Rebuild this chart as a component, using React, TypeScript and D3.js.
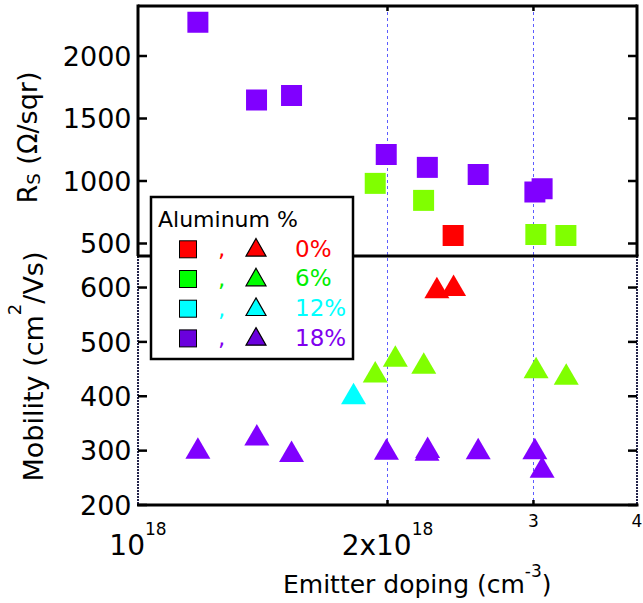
import React from "react";
import * as d3 from "d3";

// Emitter doping in units of 1e18 cm^-3
const rsAl0 = [{ x: 2.4, y: 564 }];
const rsAl6 = [
  { x: 1.933, y: 981 },
  { x: 2.211, y: 845 },
  { x: 3.02, y: 572 },
  { x: 3.283, y: 564 },
];
const rsAl18 = [
  { x: 1.181, y: 2270 },
  { x: 1.39, y: 1648 },
  { x: 1.532, y: 1684 },
  { x: 1.993, y: 1212 },
  { x: 2.234, y: 1109 },
  { x: 2.573, y: 1052 },
  { x: 3.012, y: 912 },
  { x: 3.073, y: 938 },
];
const muAl0 = [
  { x: 2.294, y: 600 },
  { x: 2.403, y: 604 },
];
const muAl6 = [
  { x: 1.933, y: 445 },
  { x: 2.044, y: 474 },
  { x: 2.212, y: 461 },
  { x: 3.022, y: 453 },
  { x: 3.286, y: 441 },
];
const muAl12 = [{ x: 1.82, y: 405 }];
const muAl18 = [
  { x: 1.181, y: 305 },
  { x: 1.391, y: 329 },
  { x: 1.532, y: 299 },
  { x: 1.994, y: 303 },
  { x: 2.236, y: 306 },
  { x: 2.232, y: 301 },
  { x: 2.573, y: 304 },
  { x: 3.012, y: 304 },
  { x: 3.073, y: 270 },
];
const rsTicks = [500, 1000, 1500, 2000];
const muTicks = [200, 300, 400, 500, 600];
const gridX = [2, 3];
const legendLabels = ["0%", "6%", "12%", "18%"];

const FONT = "DejaVu Sans";

export default function App() {
  const L = 138, R = 637, T = 6, MID = 256, B = 505;
  const x = d3.scaleLog().domain([1, 4]).range([L, R]);
  const yRs = d3.scaleLinear().domain([400, 2400]).range([MID, T]);
  const yMu = d3.scaleLinear().domain([200, 658]).range([B, MID]);

  const plotColors = { a0: "#ff0000", a6: "#80ff00", a12: "#00ffff", a18: "#8000ff" };
  const legendFill = ["#ff0000", "#00ff00", "#00ffff", "#6a00dd"];
  const legendText = ["#ff0000", "#00ee00", "#00ffff", "#8000ee"];

  const sq = 21;
  const tri = (cx: number, cy: number, hw: number, hh: number) =>
    `M${cx},${cy - hh}L${cx + hw},${cy + hh}L${cx - hw},${cy + hh}Z`;

  const squares = (data: { x: number; y: number }[], c: string, k: string) =>
    data.map((d, i) => (
      <rect key={k + i} x={x(d.x) - sq / 2} y={yRs(d.y) - sq / 2} width={sq} height={sq} fill={c} />
    ));
  const triangles = (data: { x: number; y: number }[], c: string, k: string) =>
    data.map((d, i) => <path key={k + i} d={tri(x(d.x), yMu(d.y), 12.5, 10.75)} fill={c} />);

  const rowY = (i: number) => 249.3 + i * 29.7;
  const gx = (g: number) => Math.floor(x(g)) + 0.5;

  return (
    <svg width={643} height={603} style={{ position: "absolute", left: 0, top: 0, background: "#fff" }} fontFamily={FONT}>
      {/* grid lines */}
      {gridX.map((g) => (
        <line key={"g" + g} x1={gx(g)} x2={gx(g)} y1={T} y2={B} stroke="#5c5cff" strokeWidth={1} strokeDasharray="3,3" />
      ))}

      {/* markers */}
      {squares(rsAl6, plotColors.a6, "s6")}
      {squares(rsAl0, plotColors.a0, "s0")}
      {squares(rsAl18, plotColors.a18, "s18")}
      {triangles(muAl0, plotColors.a0, "t0")}
      {triangles(muAl6, plotColors.a6, "t6")}
      {triangles(muAl12, plotColors.a12, "t12")}
      {triangles(muAl18, plotColors.a18, "t18")}

      {/* frames */}
      <line x1={L} x2={R} y1={T} y2={T} stroke="#000" strokeWidth={3} />
      <line x1={L} x2={L} y1={T - 1.5} y2={MID} stroke="#000" strokeWidth={3} />
      <line x1={R} x2={R} y1={T - 1.5} y2={MID} stroke="#000" strokeWidth={3} />
      <line x1={L} x2={L} y1={MID} y2={B} stroke="#23234a" strokeWidth={2} strokeDasharray="2,1" />
      <line x1={R} x2={R} y1={MID} y2={B} stroke="#23234a" strokeWidth={2} strokeDasharray="2,1" />
      <line x1={L - 1} x2={R + 1.5} y1={MID} y2={MID} stroke="#000" strokeWidth={3} />
      <line x1={L - 1} x2={R + 1.5} y1={B} y2={B} stroke="#000" strokeWidth={3} />

      {/* y ticks */}
      {rsTicks.map((t) => (
        <g key={"rt" + t}>
          <line x1={L} x2={L + 9} y1={yRs(t)} y2={yRs(t)} stroke="#000" strokeWidth={2.5} />
          <line x1={R - 9} x2={R} y1={yRs(t)} y2={yRs(t)} stroke="#000" strokeWidth={2.5} />
          <text x={131.5} y={yRs(t)} dy="0.36em" textAnchor="end" fontSize={27}>{t}</text>
        </g>
      ))}
      {muTicks.map((t) => (
        <g key={"mt" + t}>
          <line x1={L} x2={L + 9} y1={yMu(t)} y2={yMu(t)} stroke="#000" strokeWidth={2.5} />
          <line x1={R - 9} x2={R} y1={yMu(t)} y2={yMu(t)} stroke="#000" strokeWidth={2.5} />
          <text x={131.5} y={yMu(t)} dy="0.36em" textAnchor="end" fontSize={27}>{t}</text>
        </g>
      ))}
      {gridX.map((g) => (
        <g key={"xt" + g}>
          <line x1={x(g)} x2={x(g)} y1={T} y2={T + 5} stroke="#000" strokeWidth={2.5} />
          <line x1={x(g)} x2={x(g)} y1={B - 5} y2={B} stroke="#000" strokeWidth={2.5} />
        </g>
      ))}

      {/* x tick labels */}
      <text x={x(1)} y={555} textAnchor="middle" fontSize={28}>
        10<tspan fontSize={17} dy={-20}>18</tspan>
      </text>
      <text x={x(2)} y={555} textAnchor="middle" fontSize={28}>
        2x10<tspan fontSize={17} dy={-20}>18</tspan>
      </text>
      <text x={x(3)} y={527} textAnchor="middle" fontSize={17}>3</text>
      <text x={x(4)} y={527} textAnchor="middle" fontSize={17}>4</text>

      {/* axis titles */}
      <text x={283} y={593} fontSize={25}>
        Emitter doping (cm<tspan fontSize={17} dy={-16}>-3</tspan><tspan dy={16}>)</tspan>
      </text>
      <text transform="translate(37,137.5) rotate(-90)" textAnchor="middle" fontSize={27}>
        R<tspan fontSize={18} dy={3}>S</tspan><tspan dy={-3}> (Ω/sqr)</tspan>
      </text>
      <text transform="translate(43,366.5) rotate(-90)" textAnchor="middle" fontSize={27}>
        Mobility (cm<tspan fontSize={18} dy={-22}>2</tspan><tspan dy={22}>/Vs)</tspan>
      </text>

      {/* legend */}
      <rect x={151} y={197} width={202} height={162} fill="#fff" stroke="#000" strokeWidth={2.5} />
      <text x={158} y={226.7} fontSize={22}>Aluminum %</text>
      {legendLabels.map((lab, i) => (
        <g key={"lg" + i}>
          <rect x={188 - 8.5} y={rowY(i) - 8.5} width={17} height={17} fill={legendFill[i]} stroke="#000" strokeWidth={1} />
          <text x={218} y={rowY(i) + 7} fontSize={23} fill={legendText[i]}>,</text>
          <path d={tri(256, rowY(i) - 2, 10, 8.8)} fill={legendFill[i]} stroke="#000" strokeWidth={1.2} />
          <text x={295} y={rowY(i) + 7.4} fontSize={23} fill={legendText[i]}>{lab}</text>
        </g>
      ))}
    </svg>
  );
}
